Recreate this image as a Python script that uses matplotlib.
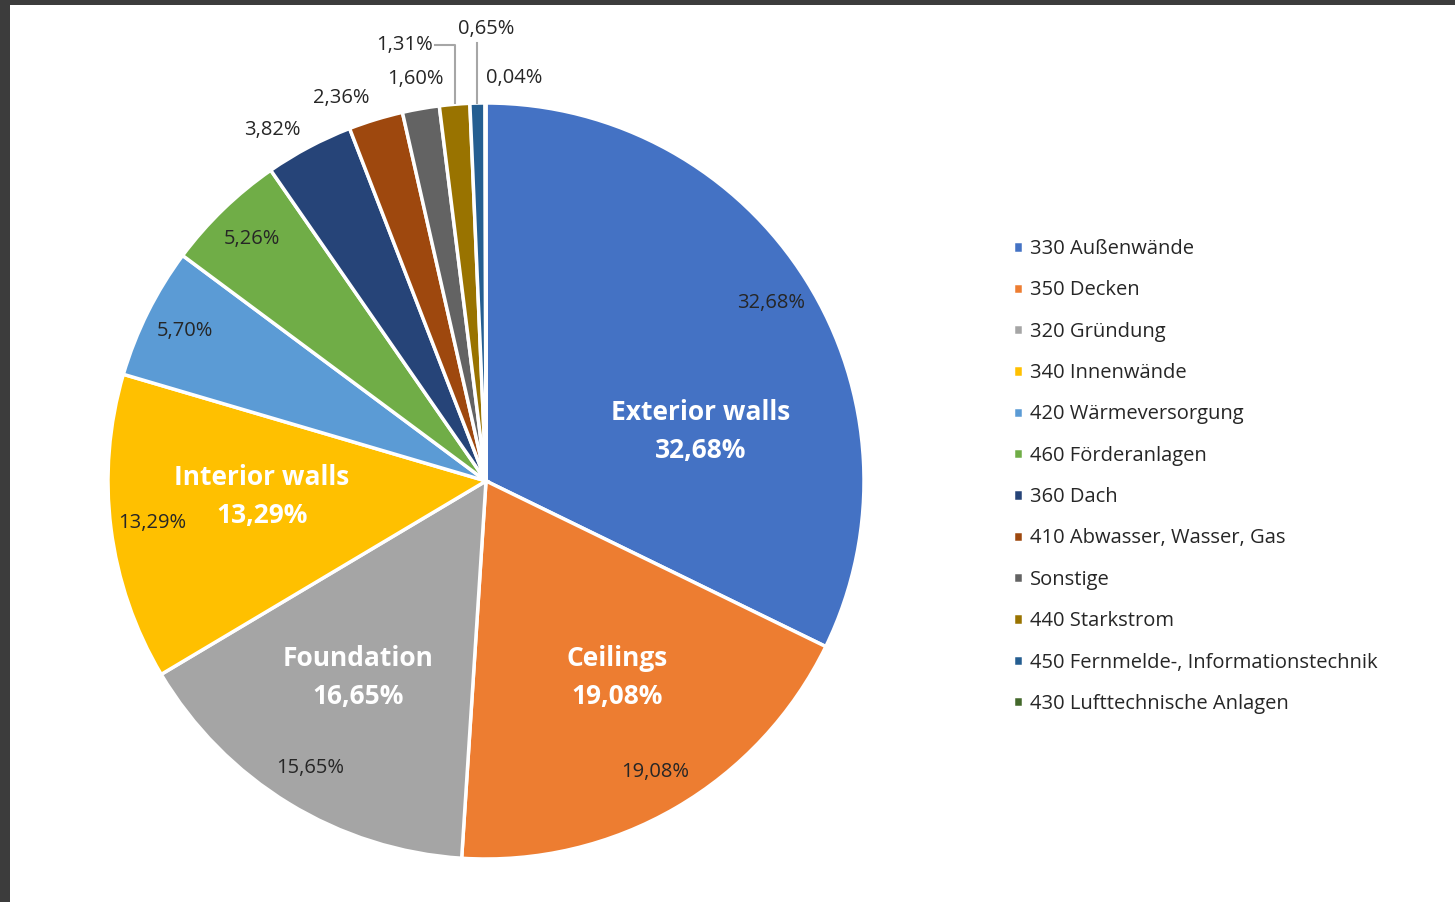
import numpy as np
import matplotlib
matplotlib.use("Agg")
import matplotlib.pyplot as plt
from matplotlib.patches import Rectangle

plt.rcParams["font.family"] = ["Open Sans", "DejaVu Sans"]

# ---- data ----
categories = [
    "330 Außenwände",
    "350 Decken",
    "320 Gründung",
    "340 Innenwände",
    "420 Wärmeversorgung",
    "460 Förderanlagen",
    "360 Dach",
    "410 Abwasser, Wasser, Gas",
    "Sonstige",
    "440 Starkstrom",
    "450 Fernmelde-, Informationstechnik",
    "430 Lufttechnische Anlagen",
]
shares = [32.68, 19.08, 15.65, 13.29, 5.70, 5.26, 3.82, 2.36, 1.60, 1.31, 0.65, 0.04]
colors = ["#4472C4", "#ED7D31", "#A5A5A5", "#FFC000", "#5B9BD5", "#70AD47",
          "#264478", "#9E480E", "#636363", "#997300", "#255E91", "#43682B"]

# white call-out labels written over the big slices
callout_names = ["Exterior walls", "Ceilings", "Foundation", "Interior walls"]
callout_values = ["32,68%", "19,08%", "16,65%", "13,29%"]

# ---- layout ----
W, H, DPI = 14.55, 9.02, 100
CX, CY, R = 486, 481, 378          # pie centre / radius in pixels (from top-left)
LIM = 1.25

# label placement: (radius, ha) per slice; None -> leader-line label
label_style = [(0.89, "center")] * 6 + [(1.05, "right"), (1.06, "right"),
                                        (1.08, "center"), None, None, (1.065, "left")]
callout_pos = [(0.569, 0.132), (0.347, -0.519), (-0.339, -0.519), (-0.593, -0.04)]
callout_gap = 0.05


def fmt(v):
    return f"{v:.2f}".replace(".", ",") + "%"


fig = plt.figure(figsize=(W, H), dpi=DPI, facecolor="#3c3c3c")
fig.patches.append(Rectangle((10 / 1455, 0), 1, 1 - 5 / 902, transform=fig.transFigure,
                             facecolor="white", edgecolor="none", zorder=-1))

side = 2 * LIM * R
ax = fig.add_axes([(CX - side / 2) / 1455, (902 - CY - side / 2) / 902, side / 1455, side / 902])
ax.set_xlim(-LIM, LIM)
ax.set_ylim(-LIM, LIM)
ax.set_aspect("equal")
ax.axis("off")

wedges, _ = ax.pie(shares, colors=colors, startangle=90, counterclock=False, radius=1.0,
                   wedgeprops=dict(edgecolor="white", linewidth=2.5))

txt_color = "#262626"
lead_color = "#a6a6a6"
for w, v, st in zip(wedges, shares, label_style):
    mid = np.deg2rad((w.theta1 + w.theta2) / 2)
    if st is None:
        continue
    r, ha = st
    ax.text(r * np.cos(mid), r * np.sin(mid), fmt(v), ha=ha, va="center",
            fontsize=14.5, color=txt_color)

# leader-line labels (440 Starkstrom, 450 Fernmelde)
w = wedges[9]
xm = np.cos(np.deg2rad((w.theta1 + w.theta2) / 2))
ax.plot([xm, xm, -0.135], [1.0, 1.153, 1.153], color=lead_color, lw=1.5)
ax.text(-0.14, 1.153, fmt(shares[9]), ha="right", va="center", fontsize=14.5, color=txt_color)

w = wedges[10]
xm = np.cos(np.deg2rad((w.theta1 + w.theta2) / 2))
ax.plot([xm, xm], [1.0, 1.16], color=lead_color, lw=1.5)
ax.text(0.0, 1.195, fmt(shares[10]), ha="center", va="center", fontsize=14.5, color=txt_color)

for (x, y), name, val in zip(callout_pos, callout_names, callout_values):
    ax.text(x, y + callout_gap, name, ha="center", va="center", fontsize=19,
            fontweight="bold", color="white")
    ax.text(x, y - callout_gap, val, ha="center", va="center", fontsize=19,
            fontweight="bold", color="white")

leg = fig.legend(wedges, categories, loc="upper left",
                 bbox_to_anchor=(1005 / 1455, 1 - 231 / 902), frameon=False,
                 fontsize=14.5, handlelength=0.5, handleheight=0.5,
                 handletextpad=0.35, labelspacing=1.06, borderaxespad=0)
for t in leg.get_texts():
    t.set_color(txt_color)

fig.savefig("out.png", dpi=DPI, facecolor=fig.get_facecolor())
